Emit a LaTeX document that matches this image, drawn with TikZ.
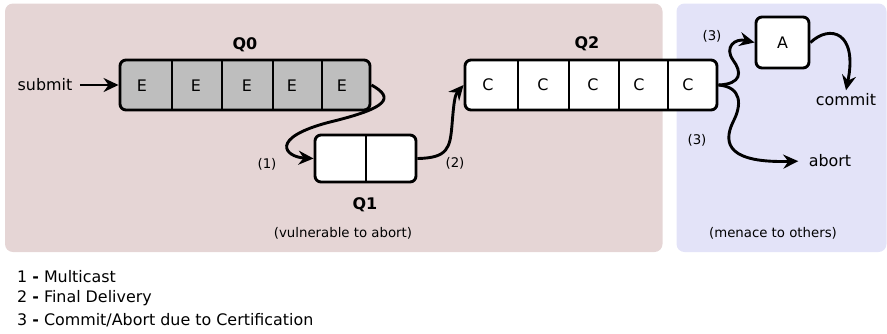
\documentclass[tikz,border=0pt]{standalone}
\usepackage{fontspec}
\setmainfont{DejaVu Sans}
\usetikzlibrary{arrows.meta}
\definecolor{zonepink}{RGB}{229,213,213}
\definecolor{zoneblue}{RGB}{227,227,248}
\definecolor{cellgray}{RGB}{190,190,190}

\begin{document}
\begin{tikzpicture}[x=1pt,y=-1pt,
  zone/.style={rounded corners=8pt},
  queue/.style={draw, line width=2.9pt, rounded corners=6pt, inner sep=0pt},
  sep/.style={line width=2.9pt},
  lbl/.style={font=\fontsize{15.9}{18}\selectfont},
  small/.style={font=\fontsize{13.3}{15}\selectfont},
  qtitle/.style={font=\fontsize{16}{18}\selectfont\bfseries},
  flow/.style={line width=2.9pt, -{Stealth[length=15pt,width=14pt,inset=5pt]}},
]
\useasboundingbox (0,0) rectangle (887,333);

% background zones
\fill[zonepink, zone] (5,3.5) rectangle (662.5,252);
\fill[zoneblue, zone] (676.5,3.5) rectangle (886.5,252);

% queue Q0 (five E cells)
\node[queue, fill=cellgray, minimum width=250pt, minimum height=50pt] (Q0) at (245,85) {};
\foreach \x in {172,222,273,322} \draw[sep] (\x,60) -- (\x,110);
\foreach \x [count=\i] in {142,196,247,292,342} \node[lbl] (e\i) at (\x,86) {E};
\node[qtitle] (q0t) at (245,45) {Q0};

% queue Q1 (two empty cells)
\node[queue, fill=white, minimum width=101pt, minimum height=47pt] (Q1) at (365.5,158.5) {};
\draw[sep] (366,135) -- (366,182);
\node[qtitle] (q1t) at (365,205) {Q1};
\node[small] (vuln) at (343,233) {(vulnerable to abort)};

% queue Q2 (five C cells)
\node[queue, fill=white, minimum width=252pt, minimum height=50pt] (Q2) at (591,85) {};
\foreach \x in {518,569,619,668} \draw[sep] (\x,60) -- (\x,110);
\foreach \x [count=\i] in {488,543,593,639,688} \node[lbl] (c\i) at (\x,85) {C};
\node[qtitle] (q2t) at (587,44) {Q2};

% certification box
\node[queue, fill=white, minimum width=53pt, minimum height=51pt, font=\fontsize{15.9}{18}\selectfont] (A) at (782.5,42.5) {A};

% outcome labels
\node[lbl] (submit) at (45,85) {submit};
\node[lbl] (commit) at (846,100) {commit};
\node[lbl] (abort) at (830,161) {abort};
\node[small] (menace) at (773,233) {(menace to others)};

% step labels
\node[small] (s1) at (267,164) {(1)};
\node[small] (s2) at (455,163) {(2)};
\node[small] (s3a) at (712,36) {(3)};
\node[small] (s3b) at (697,140) {(3)};

% connectors
\draw[flow, shorten <=4pt] (submit) -- (Q0.west);
\draw[flow] (Q0.east) .. controls (395,98) and (388,108) .. (330,122)
  .. controls (268,138) and (285,157) .. (Q1.west);
\draw[flow] (Q1.east) .. controls (448,158) and (450,148) .. (452,125)
  .. controls (454,100) and (455,95) .. (Q2.west);
\draw[flow] (Q2.east) .. controls (742,84) and (742,72) .. (733,60)
  .. controls (724,47) and (735,38) .. (A.west);
\draw[flow, shorten >=7pt] (Q2.east) .. controls (742,87) and (742,105) .. (733,122)
  .. controls (722,145) and (730,163) .. (abort.west);
\draw[flow] (A.east) .. controls (830,24) and (858,32) .. (commit.north);

% legend
\node[lbl, anchor=west, inner sep=0pt] (leg1) at (17,277) {1 \textbf{-} Multicast};
\node[lbl, anchor=west, inner sep=0pt] (leg2) at (17,298.5) {2 \textbf{-} Final Delivery};
\node[lbl, anchor=west, inner sep=0pt] (leg3) at (17,320.5) {3 \textbf{-} Commit/Abort due to Certification};
\end{tikzpicture}
\end{document}
